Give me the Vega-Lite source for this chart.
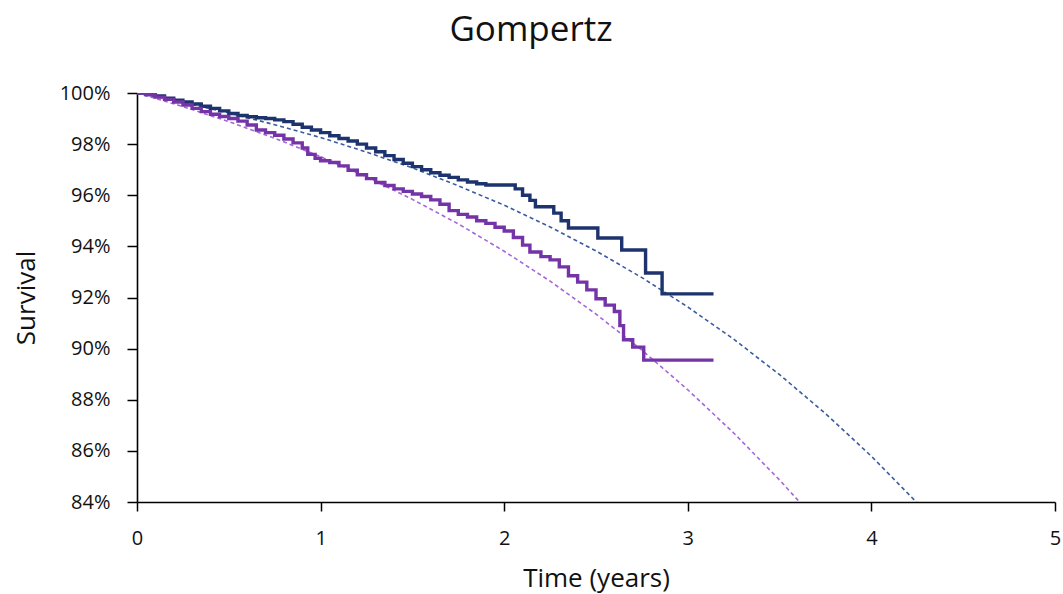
{
  "$schema": "https://vega.github.io/schema/vega-lite/v6.json",
  "width": 918,
  "height": 409,
  "autosize": "none",
  "padding": {"left": 137, "top": 93, "right": 8, "bottom": 92},
  "background": "white",
  "title": {"text": "Gompertz", "font": "Open Sans", "fontSize": 35, "fontWeight": "normal", "color": "#111111", "offset": 35, "anchor": "middle", "dx": -65},
  "config": {"view": {"stroke": null}},
  "datasets": {
    "fitBlue": [
      {"t": 0, "s": 100}, {"t": 0.25, "s": 99.63}, {"t": 0.5, "s": 99.22}, {"t": 0.75, "s": 98.76},
      {"t": 1.0, "s": 98.26}, {"t": 1.25, "s": 97.69}, {"t": 1.5, "s": 97.07}, {"t": 1.75, "s": 96.37},
      {"t": 2.0, "s": 95.61}, {"t": 2.25, "s": 94.76}, {"t": 2.5, "s": 93.82}, {"t": 2.75, "s": 92.78},
      {"t": 3.0, "s": 91.63}, {"t": 3.25, "s": 90.37}, {"t": 3.5, "s": 88.98}, {"t": 3.75, "s": 87.46},
      {"t": 4.0, "s": 85.79}, {"t": 4.25, "s": 83.96}
    ],
    "fitPurple": [
      {"t": 0, "s": 100}, {"t": 0.25, "s": 99.47}, {"t": 0.5, "s": 98.88}, {"t": 0.75, "s": 98.23},
      {"t": 1.0, "s": 97.51}, {"t": 1.25, "s": 96.72}, {"t": 1.5, "s": 95.84}, {"t": 1.75, "s": 94.88},
      {"t": 2.0, "s": 93.81}, {"t": 2.25, "s": 92.64}, {"t": 2.5, "s": 91.35}, {"t": 2.75, "s": 89.94},
      {"t": 3.0, "s": 88.39}, {"t": 3.25, "s": 86.7}, {"t": 3.5, "s": 84.86}, {"t": 3.625, "s": 83.87}
    ],
    "kmBlue": [
      {"t": 0, "s": 100}, {"t": 0.05, "s": 99.95}, {"t": 0.1, "s": 99.88}, {"t": 0.15, "s": 99.8},
      {"t": 0.2, "s": 99.72}, {"t": 0.25, "s": 99.65}, {"t": 0.3, "s": 99.57}, {"t": 0.35, "s": 99.48},
      {"t": 0.4, "s": 99.4}, {"t": 0.45, "s": 99.3}, {"t": 0.5, "s": 99.2}, {"t": 0.55, "s": 99.12},
      {"t": 0.6, "s": 99.07}, {"t": 0.65, "s": 99.03}, {"t": 0.7, "s": 99.0}, {"t": 0.75, "s": 98.95},
      {"t": 0.8, "s": 98.88}, {"t": 0.85, "s": 98.78}, {"t": 0.9, "s": 98.66}, {"t": 0.95, "s": 98.55},
      {"t": 1.0, "s": 98.45}, {"t": 1.05, "s": 98.33}, {"t": 1.1, "s": 98.22}, {"t": 1.15, "s": 98.12},
      {"t": 1.2, "s": 98.0}, {"t": 1.25, "s": 97.85}, {"t": 1.3, "s": 97.7}, {"t": 1.35, "s": 97.55},
      {"t": 1.4, "s": 97.4}, {"t": 1.45, "s": 97.25}, {"t": 1.5, "s": 97.12}, {"t": 1.55, "s": 97.0},
      {"t": 1.6, "s": 96.88}, {"t": 1.65, "s": 96.78}, {"t": 1.7, "s": 96.7}, {"t": 1.75, "s": 96.6},
      {"t": 1.8, "s": 96.52}, {"t": 1.85, "s": 96.45}, {"t": 1.9, "s": 96.4}, {"t": 2.06, "s": 96.25},
      {"t": 2.1, "s": 96.0}, {"t": 2.14, "s": 95.8}, {"t": 2.17, "s": 95.55}, {"t": 2.27, "s": 95.3},
      {"t": 2.31, "s": 95.0}, {"t": 2.35, "s": 94.72}, {"t": 2.51, "s": 94.33}, {"t": 2.64, "s": 93.86},
      {"t": 2.77, "s": 92.96}, {"t": 2.86, "s": 92.14}, {"t": 3.14, "s": 92.14}
    ],
    "kmPurple": [
      {"t": 0, "s": 100}, {"t": 0.05, "s": 99.93}, {"t": 0.1, "s": 99.84}, {"t": 0.15, "s": 99.75},
      {"t": 0.2, "s": 99.65}, {"t": 0.25, "s": 99.53}, {"t": 0.3, "s": 99.4}, {"t": 0.35, "s": 99.27},
      {"t": 0.4, "s": 99.17}, {"t": 0.45, "s": 99.08}, {"t": 0.5, "s": 99.0}, {"t": 0.55, "s": 98.9},
      {"t": 0.6, "s": 98.75}, {"t": 0.65, "s": 98.55}, {"t": 0.7, "s": 98.45}, {"t": 0.75, "s": 98.35},
      {"t": 0.8, "s": 98.2}, {"t": 0.85, "s": 98.05}, {"t": 0.9, "s": 97.85}, {"t": 0.93, "s": 97.6},
      {"t": 0.97, "s": 97.45}, {"t": 1.0, "s": 97.35}, {"t": 1.05, "s": 97.28}, {"t": 1.1, "s": 97.15},
      {"t": 1.15, "s": 96.98}, {"t": 1.2, "s": 96.8}, {"t": 1.25, "s": 96.65}, {"t": 1.3, "s": 96.5},
      {"t": 1.35, "s": 96.38}, {"t": 1.4, "s": 96.25}, {"t": 1.45, "s": 96.15}, {"t": 1.5, "s": 96.05},
      {"t": 1.55, "s": 95.95}, {"t": 1.6, "s": 95.82}, {"t": 1.65, "s": 95.65}, {"t": 1.7, "s": 95.4},
      {"t": 1.75, "s": 95.25}, {"t": 1.8, "s": 95.15}, {"t": 1.85, "s": 95.0}, {"t": 1.9, "s": 94.9},
      {"t": 1.95, "s": 94.75}, {"t": 2.0, "s": 94.6}, {"t": 2.05, "s": 94.35}, {"t": 2.1, "s": 94.05},
      {"t": 2.14, "s": 93.78}, {"t": 2.2, "s": 93.6}, {"t": 2.25, "s": 93.47}, {"t": 2.3, "s": 93.2},
      {"t": 2.35, "s": 92.85}, {"t": 2.4, "s": 92.6}, {"t": 2.45, "s": 92.3}, {"t": 2.5, "s": 91.95},
      {"t": 2.55, "s": 91.7}, {"t": 2.6, "s": 91.45}, {"t": 2.63, "s": 90.9}, {"t": 2.65, "s": 90.35},
      {"t": 2.7, "s": 90.06}, {"t": 2.76, "s": 89.55}, {"t": 3.14, "s": 89.55}
    ]
  },
  "encoding": {
    "x": {
      "field": "t", "type": "quantitative",
      "scale": {"domain": [0, 5], "nice": false},
      "axis": {
        "values": [0, 1, 2, 3, 4, 5], "grid": false, "title": "Time (years)", "labelFlush": false,
        "domainColor": "#000000", "domainWidth": 1.6, "tickColor": "#000000", "tickSize": 9, "tickWidth": 1.5,
        "labelFont": "Open Sans", "labelFontSize": 20, "labelColor": "#111111", "labelPadding": 17,
        "titleFont": "Open Sans", "titleFontSize": 26, "titleFontWeight": "normal", "titleColor": "#111111", "titlePadding": 17
      }
    },
    "y": {
      "field": "s", "type": "quantitative",
      "scale": {"domain": [84, 100], "nice": false, "zero": false},
      "axis": {
        "values": [84, 86, 88, 90, 92, 94, 96, 98, 100], "grid": false, "title": "Survival",
        "labelExpr": "datum.value + '%'",
        "domainColor": "#000000", "domainWidth": 1.6, "tickColor": "#000000", "tickSize": 10, "tickWidth": 1.5,
        "labelFont": "Open Sans", "labelFontSize": 20, "labelColor": "#111111", "labelPadding": 17,
        "titleFont": "Open Sans", "titleFontSize": 26, "titleFontWeight": "normal", "titleColor": "#111111", "titlePadding": 20
      }
    }
  },
  "layer": [
    {"data": {"name": "fitBlue"}, "mark": {"type": "line", "color": "#3B5BA0", "strokeWidth": 1.6, "strokeDash": [4, 3], "clip": true}},
    {"data": {"name": "fitPurple"}, "mark": {"type": "line", "color": "#A466DA", "strokeWidth": 1.6, "strokeDash": [4, 3], "clip": true}},
    {"data": {"name": "kmBlue"}, "mark": {"type": "line", "color": "#1C336E", "strokeWidth": 3.4, "interpolate": "step-after", "clip": true}},
    {"data": {"name": "kmPurple"}, "mark": {"type": "line", "color": "#7434A8", "strokeWidth": 3.4, "interpolate": "step-after", "clip": true}}
  ]
}
